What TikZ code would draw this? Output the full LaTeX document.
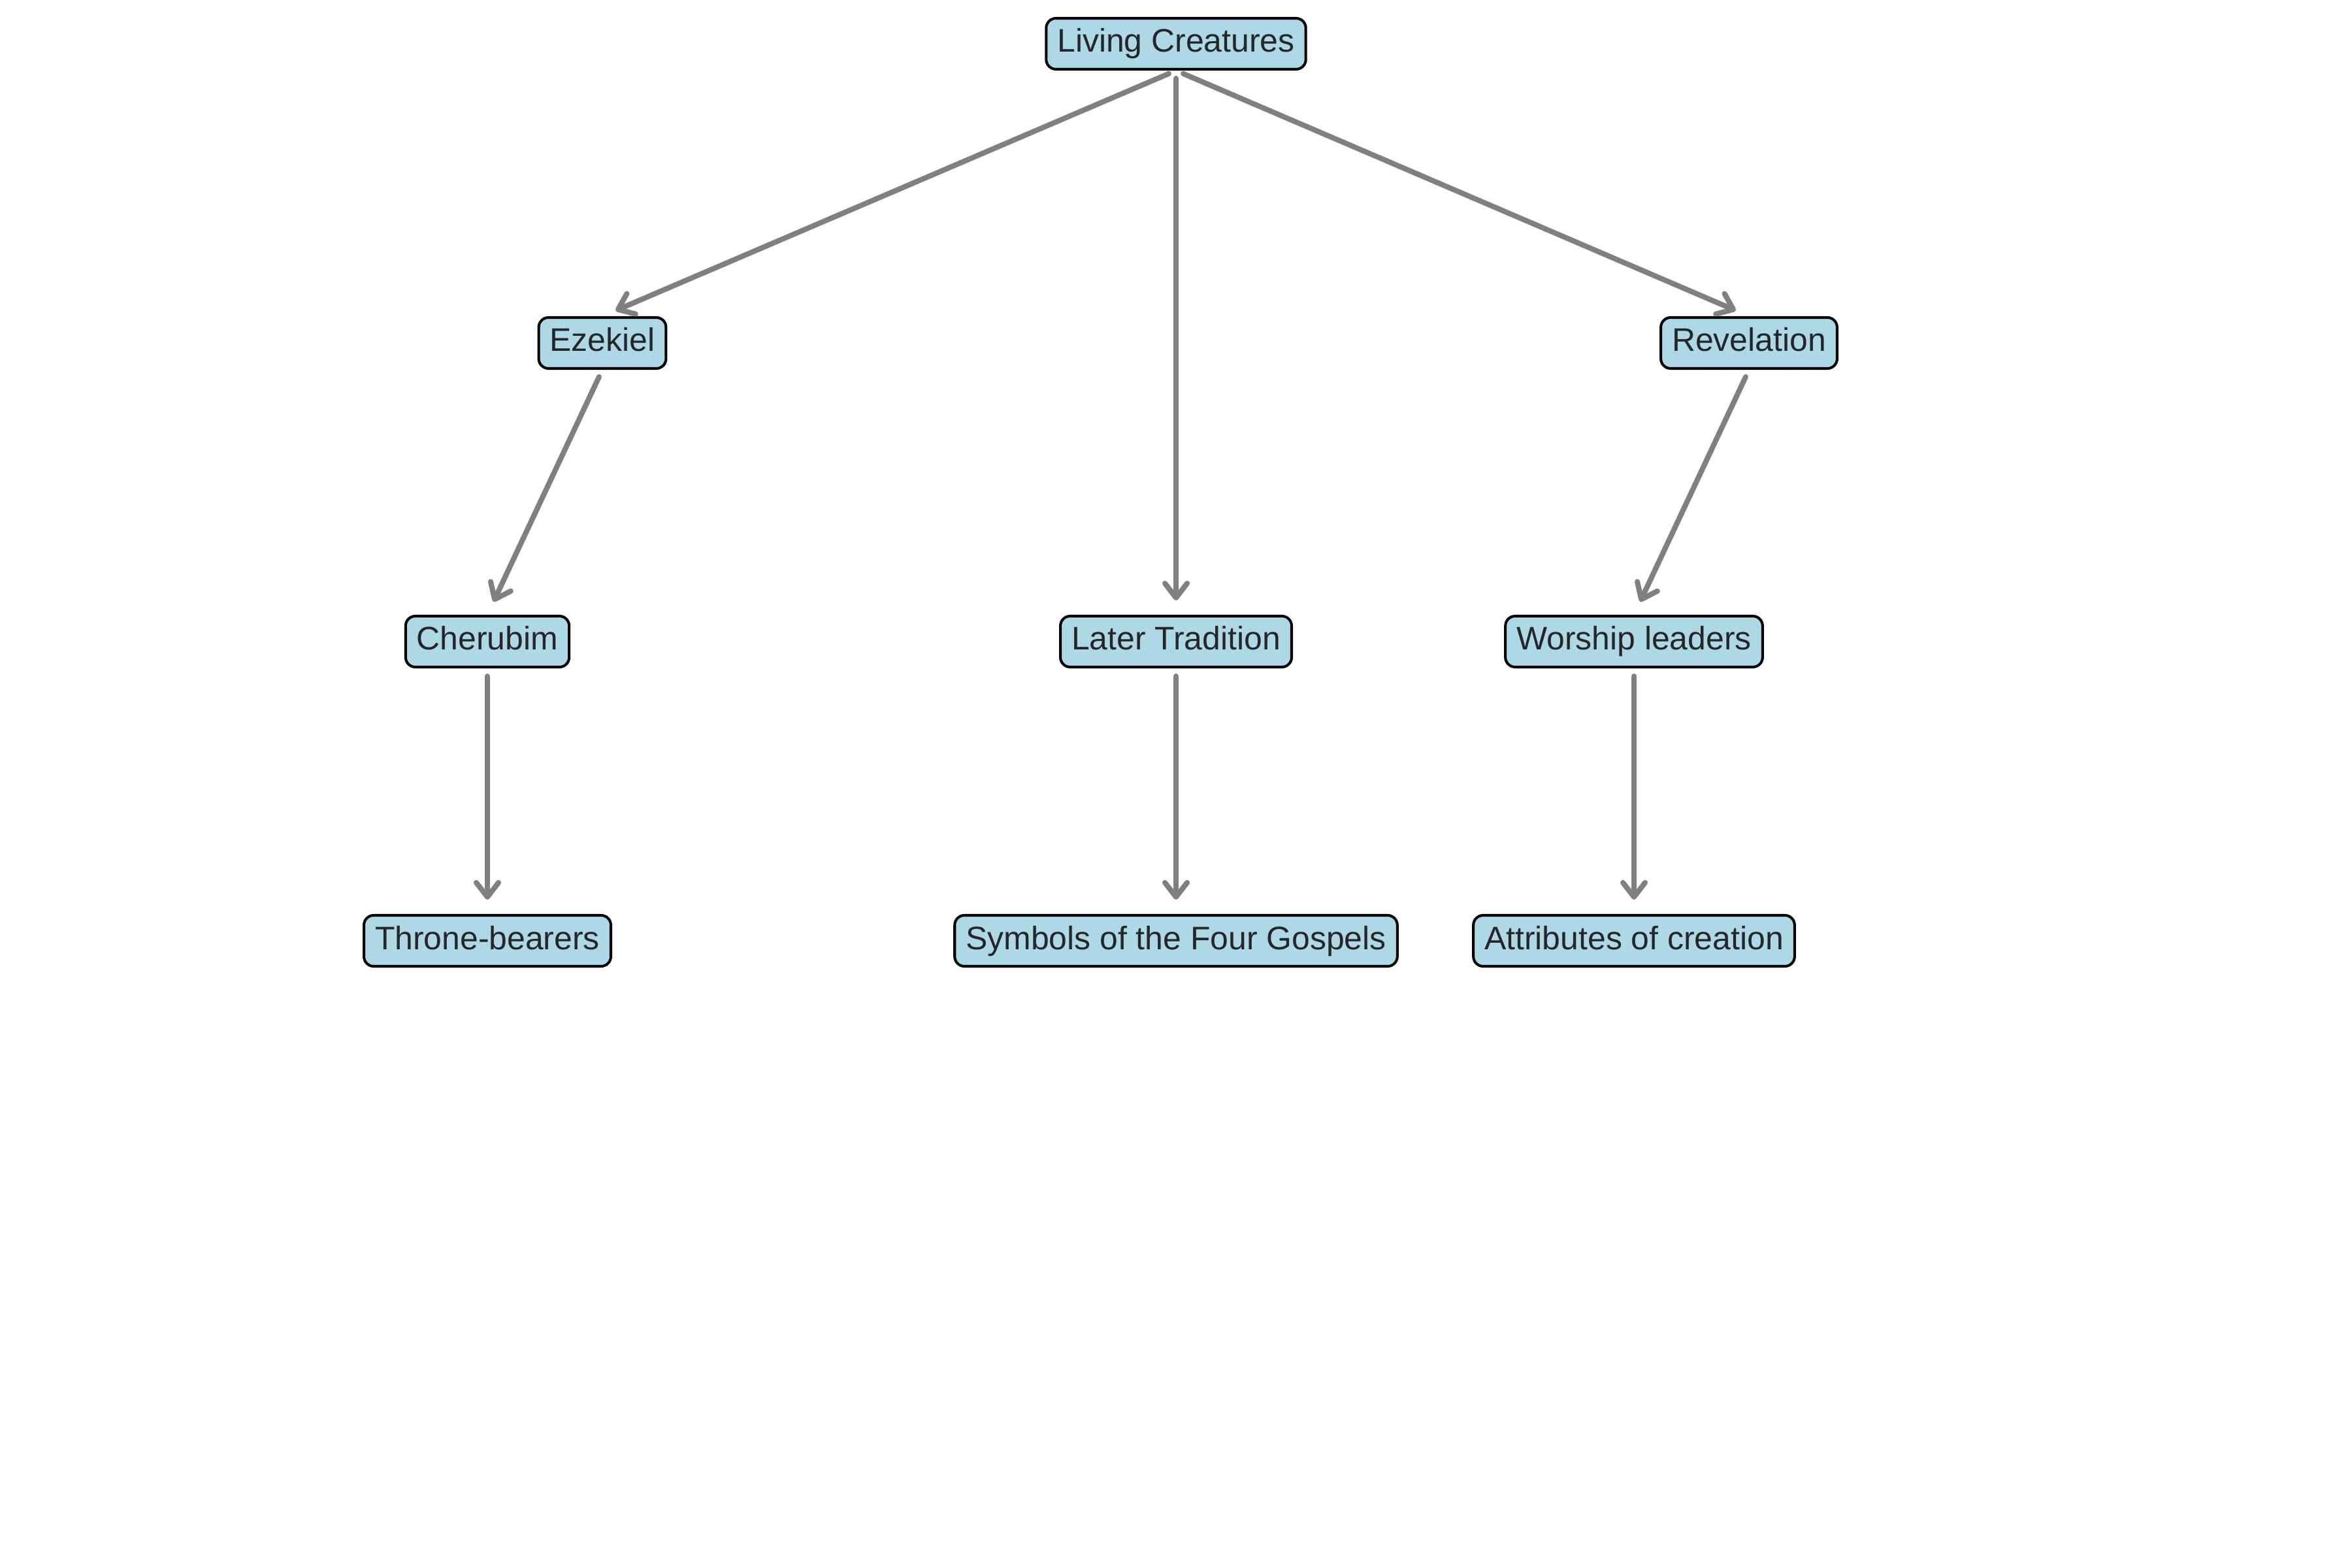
\documentclass[tikz,border=0pt]{standalone}
\usepackage{fontspec}
\setmainfont{Liberation Sans}
\usetikzlibrary{arrows.meta}
\definecolor{boxblue}{HTML}{ADD8E6}
\definecolor{edgegray}{HTML}{808080}
\definecolor{txt}{HTML}{262626}
\begin{document}
\begin{tikzpicture}[
  box/.style={draw=black, line width=1.15pt, fill=boxblue, rounded corners=0.15cm,
    text=txt, font=\fontsize{14.2}{17}\selectfont,
    inner xsep=0.17cm, inner ysep=0.1cm, text height=0.42cm, text depth=0.16cm},
  edge/.style={draw=edgegray, line width=2.3pt, line cap=round, line join=round,
    -{Straight Barb[length=0.22cm, width=0.34cm, line cap=round, line join=round]},
    shorten <=0.12cm, shorten >=0.22cm}
]
\useasboundingbox (0,0) rectangle (36,-24);
\node[box] (lc) at (18.00,-0.67) {Living Creatures};
\node[box] (ez) at (9.22,-5.25) {Ezekiel};
\node[box] (rev) at (26.77,-5.25) {Revelation};
\node[box] (ch) at (7.46,-9.82) {Cherubim};
\node[box] (lt) at (18.00,-9.82) {Later Tradition};
\node[box] (wl) at (25.01,-9.82) {Worship leaders};
\node[box] (tb) at (7.46,-14.40) {Throne-bearers};
\node[box] (sg) at (18.00,-14.40) {Symbols of the Four Gospels};
\node[box] (ac) at (25.01,-14.40) {Attributes of creation};
\draw[edge] (lc.south) -- (ez.north);
\draw[edge] (lc.south) -- (lt.north);
\draw[edge] (lc.south) -- (rev.north);
\draw[edge] (ez.south) -- (ch.north);
\draw[edge] (rev.south) -- (wl.north);
\draw[edge] (ch.south) -- (tb.north);
\draw[edge] (lt.south) -- (sg.north);
\draw[edge] (wl.south) -- (ac.north);
\end{tikzpicture}
\end{document}
